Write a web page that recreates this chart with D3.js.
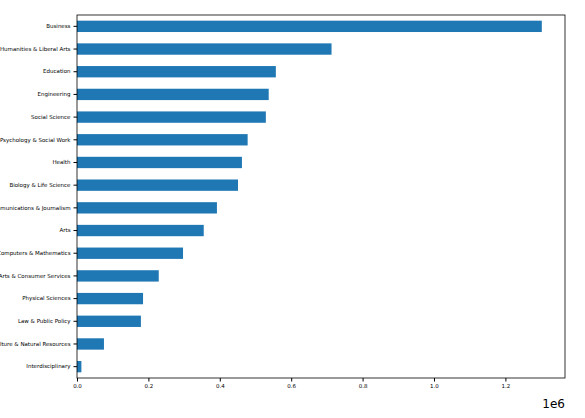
<!DOCTYPE html>
<html>
<head>
<meta charset="utf-8">
<script src="https://d3js.org/d3.v7.min.js"></script>
<style>
  body { margin: 0; background: #fff; }
  text { font-family: "DejaVu Sans", sans-serif; }
</style>
</head>
<body>
<div id="chart"></div>
<script>
// categories, top to bottom
var categories = ["Business", "Humanities & Liberal Arts", "Education", "Engineering",
  "Social Science", "Psychology & Social Work", "Health", "Biology & Life Science",
  "Communications & Journalism", "Arts", "Computers & Mathematics",
  "Industrial Arts & Consumer Services", "Physical Sciences", "Law & Public Policy",
  "Agriculture & Natural Resources", "Interdisciplinary"];
var totals = [1302000, 713000, 557000, 537000, 529000, 478000, 462000, 451000,
  392000, 355000, 297000, 229000, 185000, 179000, 75500, 12300];
var xTicks = [0, 0.2, 0.4, 0.6, 0.8, 1.0, 1.2];

var W = 585, H = 418;
var margin = {top: 15, right: 20, bottom: 40, left: 77};
var width = W - margin.left - margin.right,
    height = H - margin.top - margin.bottom;

var svg = d3.select("#chart").append("svg")
    .attr("width", W).attr("height", H)
  .append("g")
    .attr("transform", "translate(" + margin.left + "," + margin.top + ")");

var x = d3.scaleLinear().domain([0, 1.367e6]).range([0, width]);
var y = d3.scaleBand().domain(categories).range([0, height]).padding(0.5).paddingOuter(0.25);

svg.selectAll("rect").data(categories).enter().append("rect")
    .attr("x", 0)
    .attr("y", function(d) { return y(d); })
    .attr("width", function(d, i) { return x(totals[i]); })
    .attr("height", y.bandwidth())
    .attr("fill", "#1f77b4");

// x axis
var xAxis = svg.append("g")
    .attr("transform", "translate(0," + height + ")")
    .call(d3.axisBottom(x).tickValues(xTicks.map(function(t) { return t * 1e6; }))
      .tickFormat(function(d) { return (d / 1e6).toFixed(1); }).tickSize(3.5));
xAxis.selectAll("text").attr("font-size", 5.5).attr("fill", "#000");
xAxis.select(".domain").remove();

// y axis
var yAxis = svg.append("g")
    .call(d3.axisLeft(y).tickSize(3.5).tickPadding(3));
yAxis.selectAll("text").attr("font-size", 5.5).attr("fill", "#000");
yAxis.select(".domain").remove();

// frame
svg.append("rect").attr("width", width).attr("height", height)
    .attr("fill", "none").attr("stroke", "#000").attr("stroke-width", 0.8);

svg.append("text").attr("x", width).attr("y", height + 30)
    .attr("text-anchor", "end").attr("font-size", 12).text("1e6");
</script>
</body>
</html>
